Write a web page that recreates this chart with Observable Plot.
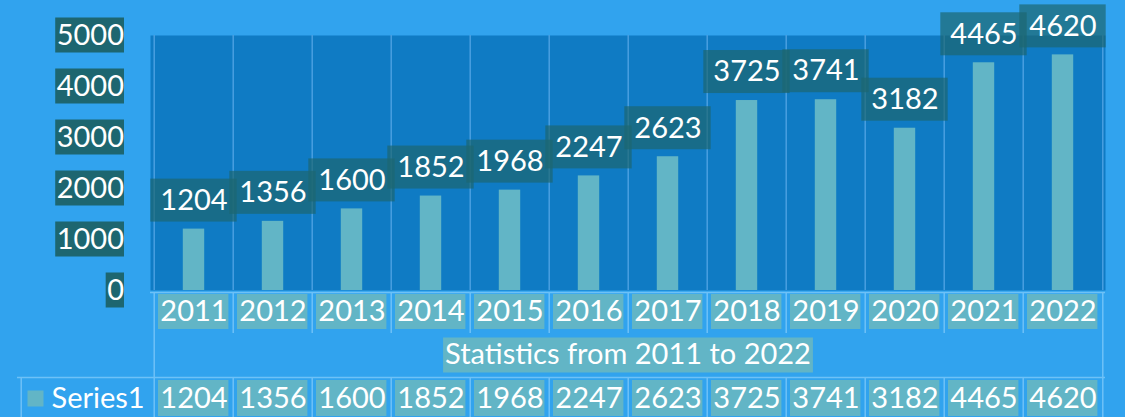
<!DOCTYPE html>
<html>
<head>
<meta charset="utf-8">
<script src="https://cdn.jsdelivr.net/npm/d3@7"></script>
<script src="https://cdn.jsdelivr.net/npm/@observablehq/plot@0.6"></script>
<style>
html, body { margin: 0; padding: 0; background: #31A3EE; overflow: hidden; }
</style>
</head>
<body>
<div id="chart"></div>
<script>
// ---- data ----
const years = ["2011", "2012", "2013", "2014", "2015", "2016", "2017", "2018", "2019", "2020", "2021", "2022"];
const values = [1204, 1356, 1600, 1852, 1968, 2247, 2623, 3725, 3741, 3182, 4465, 4620];
const yTicks = [0, 1000, 2000, 3000, 4000, 5000];
const seriesName = "Series1";
const axisTitle = "Statistics from 2011 to 2022";

// ---- layout ----
const W = 1125, H = 417;
const plotLeft = 150, plotRight = 1105, plotTop = 35, plotBottom = 290;
const bw = (plotRight - plotLeft) / years.length;
const FONT = "Lato";
const FS = 29;

const C = {
  bg: "#31A3EE",
  plot: "#0F7BC4",
  grid: "#4A9FE0",
  line: "#6EC1F7",
  teal: "#62B5C6",
  label: "#1D6670"
};

const ctx = document.createElement("canvas").getContext("2d");
ctx.font = `${FS}px ${FONT}`;
const tw = s => ctx.measureText(s).width;

const rows = years.map((year, i) => ({year, value: values[i]}));
const txt = {fill: "white", fontSize: FS, fontFamily: FONT, lineAnchor: "middle"};
const lineOpts = {stroke: C.line, strokeWidth: 1.5};

const titleW = tw(axisTitle) + 4;
const titleCx = (plotLeft + plotRight) / 2;

const yLabelBoxes = yTicks.map(t => {
  const w = tw(String(t)) + 1.5;
  const right = 124;
  return Plot.rect([t], {
    y1: d => d, y2: d => d,
    insetTop: -17.5, insetBottom: -17.5,
    insetLeft: (right - w) - plotLeft,
    insetRight: plotRight - right,
    fill: C.label
  });
});

const marks = [
  // plot area
  Plot.frame({fill: C.plot, stroke: "none"}),
  // vertical gridlines at category boundaries
  Plot.ruleX(years, {x: d => d, dx: -bw / 2, stroke: C.grid, strokeWidth: 1.5}),
  Plot.ruleX([years[years.length - 1]], {x: d => d, dx: bw / 2, stroke: C.grid, strokeWidth: 1.5}),
  // bars
  Plot.barY(rows, {x: "year", y: "value", fill: C.teal, insetLeft: (bw - 22) / 2, insetRight: (bw - 22) / 2}),
  // data label boxes + texts
  Plot.barY(rows, {x: "year", y1: "value", y2: "value", insetTop: -50, insetBottom: 7,
    insetLeft: -3.7, insetRight: -3.7, fill: C.label, fillOpacity: 0.7}),
  Plot.text(rows, {x: "year", y: "value", text: d => String(d.value), dy: -28.5, ...txt}),
  // y tick labels
  ...yLabelBoxes,
  Plot.text(yTicks, {y: d => d, text: d => String(d), frameAnchor: "left", dx: -26.5, textAnchor: "end", ...txt}),

  // ---- data table ----
  Plot.ruleY([0], {dy: 2, ...lineOpts}),
  Plot.ruleY([0], {dy: 87, insetLeft: -(plotLeft - 17), ...lineOpts}),
  Plot.ruleX(years.slice(1), {x: d => d, dx: -bw / 2, insetTop: 257, insetBottom: -43, ...lineOpts}),
  Plot.ruleX([years[0]], {x: d => d, dx: -bw / 2, insetTop: 257, insetBottom: -127, ...lineOpts}),
  Plot.ruleX([years[years.length - 1]], {x: d => d, dx: bw / 2, insetTop: 257, insetBottom: -127, ...lineOpts}),
  Plot.ruleX(years.slice(1), {x: d => d, dx: -bw / 2, insetTop: 342, insetBottom: -127, ...lineOpts}),
  Plot.ruleX([years[0]], {x: d => d, dx: -bw / 2 - (plotLeft - 17), insetTop: 342, insetBottom: -127, ...lineOpts}),

  // category row
  Plot.barY(rows, {x: "year", y1: 0, y2: 0, insetTop: 4, insetBottom: -39, insetLeft: 4, insetRight: 4.6, fill: C.teal}),
  Plot.text(rows, {x: "year", text: "year", frameAnchor: "bottom", dy: 21.5, ...txt}),

  // axis title row
  Plot.frame({fill: C.teal, stroke: "none",
    insetTop: 337 - plotTop, insetBottom: plotBottom - 372,
    insetLeft: (titleCx - titleW / 2) - plotLeft, insetRight: plotRight - (titleCx + titleW / 2)}),
  Plot.text([axisTitle], {text: d => d, frameAnchor: "bottom", dy: 64.5, ...txt}),

  // series row
  Plot.frame({fill: C.teal, stroke: "none",
    insetTop: 390 - plotTop, insetBottom: plotBottom - 406,
    insetLeft: 27 - plotLeft, insetRight: plotRight - 43}),
  Plot.text([seriesName], {text: d => d, frameAnchor: "bottom-left", dx: 51 - plotLeft, dy: 108, textAnchor: "start", ...txt}),
  Plot.barY(rows, {x: "year", y1: 0, y2: 0, insetTop: 90, insetBottom: -126, insetLeft: 4, insetRight: 4.6, fill: C.teal}),
  Plot.text(rows, {x: "year", text: d => String(d.value), frameAnchor: "bottom", dy: 108, ...txt})
];

const chart = Plot.plot({
  width: W,
  height: H,
  marginLeft: plotLeft,
  marginRight: W - plotRight,
  marginTop: plotTop,
  marginBottom: H - plotBottom,
  style: {background: C.bg, fontFamily: FONT, fontSize: FS + "px", overflow: "visible"},
  x: {type: "band", domain: years, padding: 0, axis: null},
  y: {domain: [0, 5000], axis: null},
  marks
});
document.getElementById("chart").appendChild(chart);
</script>
</body>
</html>
